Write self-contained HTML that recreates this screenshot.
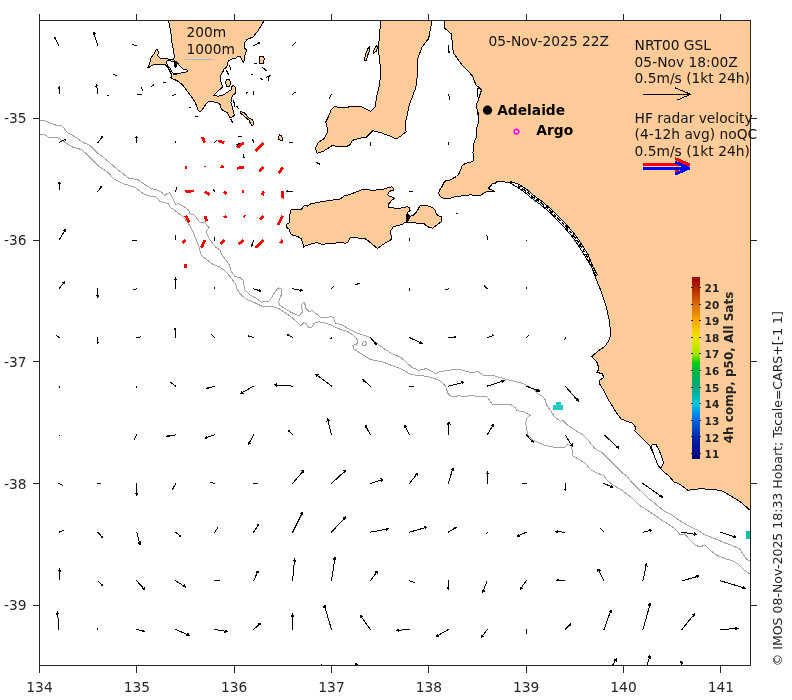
<!DOCTYPE html>
<html><head><meta charset="utf-8"><title>IMOS ocean current map</title>
<style>html,body{margin:0;padding:0;background:#fff}svg{display:block}text{font-family:"DejaVu Sans","Liberation Sans",sans-serif}</style>
</head><body>
<svg width="792" height="700" viewBox="0 0 792 700" shape-rendering="crispEdges">
<defs><clipPath id="axclip"><rect x="39.5" y="20.5" width="711" height="645"/></clipPath><linearGradient id="cb" x1="0" y1="277" x2="0" y2="459" gradientUnits="userSpaceOnUse"><stop offset="0.000" stop-color="#990000"/><stop offset="0.055" stop-color="#b02000"/><stop offset="0.148" stop-color="#d86800"/><stop offset="0.242" stop-color="#f8a800"/><stop offset="0.330" stop-color="#f0e400"/><stop offset="0.423" stop-color="#a8e800"/><stop offset="0.467" stop-color="#10d010"/><stop offset="0.511" stop-color="#00b840"/><stop offset="0.604" stop-color="#00a880"/><stop offset="0.698" stop-color="#00c8e0"/><stop offset="0.742" stop-color="#0098f0"/><stop offset="0.786" stop-color="#0068e0"/><stop offset="0.879" stop-color="#0028a8"/><stop offset="0.967" stop-color="#000c88"/><stop offset="1.000" stop-color="#000878"/></linearGradient></defs>
<rect x="0" y="0" width="792" height="700" fill="#ffffff"/>
<polygon points="444.4,20.0 750.5,20.0 750.5,510.6 741.1,502.3 734.3,498.0 725.7,492.9 720.6,490.3 708.6,489.4 701.7,488.6 694.9,489.4 688.0,490.3 681.1,485.1 676.0,482.6 673.6,481.8 669.1,475.8 664.5,472.7 660.0,468.2 657.0,460.6 652.4,451.5 649.5,445.3 641.4,437.2 634.9,431.1 635.4,427.1 632.3,423.0 626.3,421.0 621.2,419.0 615.2,410.9 609.1,400.8 604.0,390.7 600.0,384.6 599.0,380.6 604.0,377.6 602.0,373.5 597.0,372.5 599.0,368.5 597.0,362.4 591.9,356.4 599.0,350.3 605.0,346.3 609.1,340.2 610.7,334.1 609.5,321.0 606.0,306.0 601.0,291.0 595.0,276.3 591.5,267.0 585.0,256.0 575.5,241.0 570.0,234.0 563.5,226.5 556.6,219.4 550.5,213.0 540.4,204.5 532.3,198.7 525.3,192.7 517.2,187.1 510.1,183.1 505.8,182.2 500.7,181.3 496.9,181.8 494.4,183.8 492.5,183.5 491.2,185.4 488.7,187.9 489.3,189.1 491.9,189.8 494.4,191.0 493.1,191.7 489.3,191.0 486.2,191.7 483.0,193.6 480.5,195.5 478.0,195.7 470.4,194.8 462.8,195.7 455.3,196.7 451.5,197.7 447.7,199.0 443.9,198.6 440.7,196.7 438.6,193.6 439.5,190.4 442.0,186.6 443.9,182.8 445.8,180.9 448.9,180.9 452.7,178.4 456.5,176.5 458.4,174.6 459.7,172.1 460.9,168.9 462.2,165.8 465.4,163.3 469.1,162.6 472.9,161.4 473.6,157.6 472.9,152.5 473.1,151.4 474.0,142.9 476.1,137.5 476.1,130.0 478.9,121.4 477.4,110.7 478.9,115.0 476.0,106.0 478.9,98.3 481.7,89.8 476.0,85.0 472.3,75.6 462.8,66.0 453.3,52.9 451.4,34.0 444.8,28.3" fill="#ffcc99" stroke="#000" stroke-width="1" stroke-linejoin="round"/>
<polygon points="380.4,20.0 431.8,20.0 430.7,27.9 428.6,38.6 422.1,47.1 417.9,57.9 417.4,75.0 415.7,87.9 412.5,96.4 409.3,105.0 407.1,115.7 405.0,124.3 406.1,131.8 400.7,136.1 396.4,138.9 390.0,136.1 381.4,132.9 372.9,130.7 366.4,137.1 360.0,138.2 352.5,140.3 349.3,145.7 342.9,146.8 332.1,145.7 323.6,151.1 317.1,153.2 315.4,147.8 318.2,142.5 324.6,138.2 327.9,130.7 325.7,122.1 327.9,117.9 331.0,110.3 334.3,106.7 342.9,107.6 351.4,106.7 360.0,106.0 366.4,109.3 370.7,111.4 375.0,107.1 376.7,96.4 379.3,85.7 381.0,72.9 379.3,57.9 378.2,47.1 379.7,36.4" fill="#ffcc99" stroke="#000" stroke-width="1" stroke-linejoin="round"/>
<polygon points="168.3,20.0 264.4,20.0 258.4,30.4 252.9,37.1 247.1,39.3 244.3,42.9 245.0,48.6 246.3,50.0 245.7,54.6 244.0,56.3 244.6,59.7 243.4,62.6 242.3,60.3 240.6,56.9 237.7,56.3 235.4,58.6 231.4,59.1 228.6,60.9 227.4,63.7 226.9,67.1 224.0,68.9 223.4,71.1 221.1,74.0 220.6,78.6 221.1,83.1 222.9,86.6 220.6,88.9 217.1,91.7 213.7,95.1 218.3,96.3 222.9,95.1 227.4,92.3 230.9,90.0 232.0,86.6 233.1,85.4 234.9,86.6 236.0,89.4 235.4,93.4 233.1,95.1 231.4,98.0 230.9,102.6 232.0,106.0 233.1,110.6 234.3,115.1 232.6,116.9 229.7,117.4 228.6,115.1 227.4,112.9 225.1,111.7 221.7,109.4 220.6,107.1 220.0,104.3 217.1,102.6 213.7,102.0 210.9,101.1 207.4,102.3 205.0,105.5 203.0,108.5 200.6,111.4 198.3,110.9 197.1,107.4 195.4,102.9 192.6,98.3 189.1,93.7 185.7,89.1 182.3,84.6 177.7,81.1 173.1,78.9 170.9,77.7 171.4,74.3 170.3,72.0 168.0,67.4 165.1,64.6 158.9,64.0 153.7,64.6 149.7,66.9 147.4,68.0 149.1,65.1 150.3,60.6 151.4,57.1 154.3,53.7 156.0,50.3 157.1,49.1 158.3,51.4 157.7,56.0 160.0,58.3 166.9,58.9 173.7,59.4 174.3,57.1 173.7,51.4 172.6,45.7 171.4,40.0 170.9,32.2" fill="#ffcc99" stroke="#000" stroke-width="1" stroke-linejoin="round"/>
<polygon points="291.1,209.9 301.3,209.4 303.5,206.7 305.1,205.1 307.8,206.1 310.4,204.0 317.4,202.4 324.9,201.1 335.7,199.7 340.0,199.2 344.2,196.0 348.5,194.9 357.1,191.7 362.5,189.5 368.4,189.7 373.8,190.6 378.1,189.5 382.4,190.0 385.6,188.4 388.8,187.4 392.0,186.8 393.7,188.4 393.1,190.6 391.0,190.6 388.8,192.2 387.8,194.3 388.8,196.0 392.0,197.0 394.2,198.6 391.5,200.2 390.4,201.9 388.6,204.0 388.6,207.2 392.0,207.8 397.4,208.3 402.8,207.8 407.1,206.7 409.2,207.8 410.3,210.4 408.1,212.0 407.1,214.2 409.2,216.3 412.4,215.8 415.7,213.1 417.8,209.9 419.4,206.7 421.0,205.1 424.2,205.4 428.5,206.1 432.8,207.8 435.0,209.9 436.0,213.1 438.2,215.8 441.4,216.9 442.0,221.2 439.3,223.3 436.0,225.5 432.8,228.1 428.5,227.1 424.2,223.9 418.9,223.3 413.5,222.8 408.1,222.2 404.9,222.2 402.8,224.4 397.4,225.5 393.1,227.1 391.0,230.3 390.8,234.6 392.0,237.8 390.4,240.5 386.7,242.1 383.5,244.2 380.2,246.4 377.6,248.5 374.9,246.4 371.7,243.7 367.9,240.5 365.2,238.9 361.4,238.9 357.1,237.8 350.7,237.3 349.6,238.9 347.5,242.6 345.3,243.2 340.0,242.6 334.6,243.2 328.1,243.2 322.8,244.8 317.4,242.6 314.2,243.2 309.9,244.2 307.8,245.3 305.1,245.9 303.5,247.5 302.9,243.2 301.3,238.9 298.1,236.7 292.7,235.1 290.6,233.5 289.0,229.2 286.8,227.6 286.8,224.4 289.0,222.8 289.5,216.3 290.6,212.0" fill="#ffcc99" stroke="#000" stroke-width="1" stroke-linejoin="round"/>
<polygon points="240.6,111.7 244.0,112.3 246.9,115.7 249.7,118.6 252.6,119.7 253.7,124.3 252.0,126.0 250.3,123.1 249.1,120.3 245.7,117.4 242.3,114.6 240.6,112.9" fill="#ffcc99" stroke="#000" stroke-width="1" stroke-linejoin="round"/>
<polygon points="226.3,79.5 229.0,79.0 230.5,81.5 230.2,85.0 228.5,87.0 226.5,86.0 225.8,82.5" fill="#ffcc99" stroke="#000" stroke-width="1" stroke-linejoin="round"/>
<polygon points="167.4,60.5 175.4,61.7 177.7,63.0 180.6,66.9 183.4,69.1 186.9,69.5 187.4,71.8 182.3,72.6 177.7,73.7 174.3,74.6 172.0,72.0 170.3,68.6 167.4,65.1 166.5,62.0" fill="#fff" stroke="#000" stroke-width="1" stroke-linejoin="round"/>
<polygon points="652.0,445.0 656.0,444.5 659.0,450.0 661.5,456.0 663.5,463.0 661.5,467.5 658.5,466.5 655.5,459.0 653.0,452.0 651.5,447.5" fill="#fff" stroke="#000" stroke-width="1" stroke-linejoin="round"/>
<polygon points="510.1,183.1 517.2,187.1 525.3,192.7 532.3,198.7 540.4,204.5 550.5,213.0 556.6,219.4 563.5,226.5 570.0,234.0 575.5,241.0 585.0,256.0 591.5,267.0 596.0,275.5 597.3,274.8 592.8,266.3 587.9,254.2 578.3,239.1 572.6,231.8 566.0,224.2 559.0,217.0 552.8,210.5 542.5,201.8 534.4,196.0 527.4,190.0 519.0,184.2 510.8,181.8" fill="#fff" stroke="#000" stroke-width="1" stroke-linejoin="round"/>
<polyline points="518.1,185.7 526.3,191.4 533.3,197.4 541.5,203.2 551.7,211.7 557.8,218.2 564.8,225.4 571.3,232.9 576.9,240.0 586.4,255.1 592.2,266.6" fill="none" stroke="#000" stroke-width="1.5" stroke-dasharray="3 1.5 5 2"/>
<polygon points="259.5,57.0 263.5,56.5 264.3,59.0 263.0,63.5 259.5,63.5" fill="#ffcc99" stroke="#000" stroke-width="1" stroke-linejoin="round"/>
<polygon points="278.0,139.5 279.5,134.5 281.0,135.5 283.0,139.0 282.0,140.5" fill="#ffcc99" stroke="#000" stroke-width="1" stroke-linejoin="round"/>
<polygon points="364.5,60.5 365.5,54.0 368.0,48.5 369.8,46.0 369.3,51.0 367.5,56.0 366.0,61.0" fill="#ffcc99" stroke="#000" stroke-width="1" stroke-linejoin="round"/>
<polygon points="373.0,53.5 374.5,48.5 376.5,45.5 377.5,47.5 376.0,51.5" fill="#ffcc99" stroke="#000" stroke-width="1" stroke-linejoin="round"/>
<path d="M255 63.2h1.2M262.5 67.5L266 70.3M251.6 74.4h1.2M260 78L263 80M266.5 77.2L270.8 75.4M268.3 76.2V80M113.4 74.6L116.6 75.4M107.2 95.8h1.2M151.9 86.2L153.8 84.5M164 82.6h1.2M316.3 162.5L319.3 164M356 284.6L359 283.6M456.6 213.3h1.2M229.5 65.6L230.8 69.2M226.5 70.8L228.5 74.4M233.6 100.5L234.8 106.8M236.8 106.2L238.3 108.4M231 119.8L233 123M196 116.2h1.2M189.2 107.6h1.2M246 93h1.2M141.5 88L143 91M238.9 136.3H241M252.1 139.1L253.4 140.8L253.6 142.6M243.3 155V157.5H244.7M237 144.5L239.3 143.3L238.5 145.6Z" stroke="#000" stroke-width="1.2" fill="none" stroke-linecap="round"/>
<path d="M405.5 214.5L409 213.8L410.5 217L408.5 221.5L406 221.8Z" fill="#000"/>
<path d="M477.8 88.5L481.5 89.5L480.5 93L478.6 98.5L477.6 96Z" fill="none" stroke="#000" stroke-width="1"/>
<path d="M173.5 60L176.5 61.5L177.2 66.5L175 68.5L173.8 64Z M173 72.5L176.8 73.2L175.5 75L173 74.8Z" fill="#000"/>
<polyline points="39.5,120.3 44.0,120.6 50.1,122.9 57.7,125.9 62.2,125.9 67.5,132.7 75.9,137.3 81.9,141.8 90.3,145.6 98.6,153.9 107.7,160.8 115.3,167.6 122.8,173.6 128.9,178.2 138.0,179.7 144.1,184.2 151.6,188.8 155.7,189.3 161.4,192.1 165.0,195.7 167.1,193.6 170.0,192.6 172.9,198.6 175.7,204.3 178.6,203.6 183.6,206.4 188.6,210.0 190.0,213.6 194.3,215.0 197.1,218.6 200.0,222.1 205.0,222.9 209.3,227.9 206.4,230.7 207.1,234.3 210.0,240.0 215.7,247.1 220.0,250.0 221.4,254.3 224.3,257.9 227.9,262.9 229.5,265.0 231.1,271.1 234.8,276.4 240.2,277.9 243.2,280.2 243.9,284.7 244.7,290.0 249.2,294.5 255.3,297.6 261.4,302.1 268.9,301.4 272.0,296.8 275.8,290.8 278.8,287.7 281.4,289.2 281.1,295.3 278.8,301.4 279.5,305.2 285.6,308.9 291.7,312.7 299.2,315.8 302.3,312.0 301.5,304.4 303.8,302.1 305.3,305.2 306.1,308.9 309.8,312.0 312.1,310.5 315.9,313.5 320.5,317.3 328.0,318.0 329.5,316.5 333.3,317.3 335.6,323.3 341.5,324.7 349.1,329.2 356.7,333.0 368.8,336.8 379.4,345.2 385.5,349.7 393.0,354.2 400.6,357.3 406.7,362.6 412.7,367.9 418.8,370.2 426.4,368.6 432.4,371.7 435.5,373.9 440.0,371.7 449.1,370.2 455.2,369.4 460.6,369.4 465.2,371.2 472.7,372.7 477.3,371.2 483.3,375.0 493.9,375.8 504.5,378.8 513.6,381.1 522.7,383.3 528.8,386.4 534.8,390.2 537.9,393.9 542.4,396.2 545.5,400.0 546.2,404.5 550.0,409.8 554.5,416.7 560.6,421.2 563.0,420.5 567.6,425.0 575.2,430.3 582.7,434.8 588.8,440.9 594.8,448.5 602.4,453.0 608.5,459.1 616.1,466.7 622.1,472.7 626.7,475.8 631.2,481.8 637.3,487.9 640.0,490.3 646.9,497.1 655.4,504.0 664.0,510.9 670.9,514.3 679.4,520.3 688.0,525.4 696.6,529.7 705.1,534.9 713.7,538.3 722.3,541.7 730.9,545.1 739.4,548.6 742.9,553.7 746.3,558.9 750.5,561.4" fill="none" stroke="#a3a3a3" stroke-width="1" stroke-linejoin="round"/>
<polyline points="39.5,135.0 44.0,134.2 48.6,137.3 57.7,137.6 65.3,142.6 72.8,147.1 81.9,149.7 89.5,157.0 98.6,166.1 107.7,172.1 113.8,178.9 122.8,183.5 135.0,187.3 144.1,194.1 151.6,196.4 155.7,196.4 160.0,201.4 168.6,203.6 170.0,207.1 174.3,210.0 180.0,214.3 185.7,220.0 190.0,225.7 192.9,231.4 195.7,238.6 198.6,245.7 201.4,255.7 207.1,260.0 212.9,264.3 220.0,267.1 225.7,271.4 231.1,277.9 235.6,283.9 237.1,289.2 240.2,293.8 246.2,299.1 255.3,302.9 262.9,306.7 273.5,306.7 279.5,308.9 288.6,315.0 296.2,321.1 300.8,325.6 303.8,322.6 306.1,323.3 308.3,327.1 312.1,327.1 313.6,323.3 318.9,321.8 326.5,323.3 334.1,326.4 340.2,329.4 347.6,331.5 353.6,335.3 357.4,339.8 357.4,343.6 352.9,345.6 353.6,348.9 359.7,352.7 370.3,359.5 382.4,361.8 390.0,364.8 400.6,368.6 411.2,374.7 421.8,375.5 432.4,377.7 441.5,381.5 446.1,386.8 447.6,392.9 450.6,395.9 455.2,396.7 459.1,395.5 463.6,397.0 469.7,395.5 477.3,396.2 486.4,396.2 489.4,400.0 492.4,404.5 501.5,404.5 510.6,404.5 515.2,407.6 516.7,410.6 524.2,412.1 530.3,415.2 527.3,417.4 525.8,422.7 526.5,428.8 528.0,434.8 531.8,439.4 537.9,442.4 545.5,445.5 553.0,447.0 560.6,447.7 564.5,447.7 566.8,444.7 571.4,445.5 572.1,450.0 572.1,455.3 578.2,459.1 585.8,463.6 590.3,469.7 596.4,472.7 603.9,475.8 607.0,480.3 613.0,484.8 620.6,489.4 626.7,493.9 632.7,498.5 640.0,505.7 646.9,510.0 653.7,514.3 660.6,519.4 669.1,524.6 676.0,529.7 680.3,534.9 684.6,534.0 687.1,536.6 689.7,540.0 694.9,545.1 700.0,546.9 705.1,545.1 710.3,550.3 717.1,555.4 725.7,558.9 732.6,560.6 737.7,564.0 742.9,569.1 750.5,574.3" fill="none" stroke="#a3a3a3" stroke-width="1" stroke-linejoin="round"/>
<path d="M555.5 402.3h5v2.8h2.4v4.7h-10v-4.7h2.6z" fill="#22c9c0"/>
<rect x="746.3" y="531" width="4" height="7.8" fill="#19bfa2"/>
<g clip-path="url(#axclip)"><path d="M59.0 45.4L54.1 37.1M54.1 37.1L55.7 38.1M54.1 37.1L54.2 39.0M97.9 45.4L93.5 32.2M93.5 32.2L95.4 34.0M93.5 32.2L93.0 34.8M136.8 45.4L132.0 44.8M253.6 45.4L260.0 43.0M260.0 43.0L259.1 44.0M260.0 43.0L258.7 42.8M292.6 45.4L296.0 42.0M448.3 45.4L449.0 52.5M449.0 52.5L448.2 51.3M449.0 52.5L449.6 51.2M59.0 94.1L59.4 87.0M59.4 87.0L60.0 88.3M59.4 87.0L58.6 88.2M97.9 94.1L96.5 84.5M96.5 84.5L97.7 86.0M96.5 84.5L95.8 86.3M136.8 94.1L142.0 95.0M175.8 94.1L172.0 96.0M253.6 94.1L253.8 91.5M292.6 94.1L296.0 92.0M331.5 94.1L329.5 98.0M448.3 94.1L450.0 99.5M59.0 142.7L66.0 139.0M66.0 139.0L65.1 140.3M66.0 139.0L64.4 139.0M97.9 142.7L102.4 136.5M102.4 136.5L102.2 138.0M102.4 136.5L101.0 137.2M136.8 142.7L136.5 136.5M136.5 136.5L137.2 137.6M136.5 136.5L136.0 137.6M175.8 142.7L175.0 141.0M214.7 142.7L216.5 140.5M292.6 142.7L290.0 142.5M370.4 142.7L371.0 145.5M448.3 142.7L448.5 144.8M59.0 191.4L59.2 182.0M59.2 182.0L60.1 183.7M59.2 182.0L58.3 183.6M97.9 191.4L101.8 186.0M101.8 186.0L101.6 187.3M101.8 186.0L100.6 186.6M175.8 191.4L176.5 188.0M214.7 191.4L213.5 189.8M292.6 191.4L286.5 191.3M286.5 191.3L287.6 190.7M286.5 191.3L287.6 191.9M409.4 191.4L412.5 192.0M59.0 240.1L65.5 229.5M65.5 229.5L65.4 232.0M65.5 229.5L63.3 230.7M136.8 240.1L132.0 241.0M175.8 240.1L175.4 235.5M214.7 240.1L214.2 237.8M253.6 240.1L251.5 246.0M251.5 246.0L251.3 244.8M251.5 246.0L252.4 245.2M409.4 240.1L409.8 238.8M487.2 240.1L487.0 235.5M526.2 240.1l0.8 0.8M59.0 288.8L64.5 282.0M64.5 282.0L64.2 283.7M64.5 282.0L62.9 282.7M97.9 288.8L97.6 297.5M97.6 297.5L96.8 295.9M97.6 297.5L98.5 296.0M136.8 288.8L133.5 290.0M175.8 288.8L175.4 278.0M175.4 278.0L176.5 279.9M175.4 278.0L174.4 279.9M214.7 288.8L215.0 287.5M253.6 288.8L260.7 291.0M260.7 291.0L259.2 291.3M260.7 291.0L259.7 289.9M292.6 288.8L302.0 290.5M302.0 290.5L300.2 291.1M302.0 290.5L300.5 289.3M331.5 288.8L334.0 286.0M409.4 288.8L410.0 291.0M448.3 288.8L446.0 289.5M487.2 288.8L484.5 286.0M526.2 288.8L526.5 287.5M59.0 337.5L56.0 335.0M97.9 337.5L97.6 343.5M97.6 343.5L97.1 342.4M97.6 343.5L98.2 342.5M136.8 337.5L140.5 337.0M175.8 337.5L175.0 328.0M175.0 328.0L176.0 329.6M175.0 328.0L174.2 329.7M214.7 337.5L211.0 334.0M253.6 337.5L248.5 336.0M292.6 337.5L287.0 334.0M287.0 334.0L288.3 334.1M287.0 334.0L287.6 335.1M331.5 337.5L331.0 338.5M370.4 337.5L376.3 344.5M376.3 344.5L374.6 343.8M376.3 344.5L375.9 342.7M409.4 337.5L422.0 343.5M422.0 343.5L419.4 343.6M422.0 343.5L420.5 341.4M448.3 337.5L455.7 337.0M455.7 337.0L454.4 337.8M455.7 337.0L454.4 336.4M487.2 337.5L494.0 335.3M494.0 335.3L493.0 336.3M494.0 335.3L492.6 335.0M526.2 337.5L529.0 335.0M565.1 337.5L565.0 339.5M59.0 386.1L59.5 387.3M136.8 386.1L137.0 387.8M175.8 386.1L171.0 382.5M214.7 386.1L207.0 388.5M207.0 388.5L208.1 387.3M207.0 388.5L208.6 388.8M253.6 386.1L240.5 393.5M240.5 393.5L241.9 391.3M240.5 393.5L243.1 393.5M292.6 386.1L274.5 384.8M274.5 384.8L276.9 383.7M274.5 384.8L276.7 386.2M331.5 386.1L316.0 374.5M316.0 374.5L318.6 374.9M316.0 374.5L317.1 376.9M370.4 386.1L362.8 379.7M362.8 379.7L364.8 380.1M362.8 379.7L363.5 381.6M409.4 386.1L413.7 386.2M448.3 386.1L463.8 382.2M463.8 382.2L461.9 384.0M463.8 382.2L461.3 381.6M487.2 386.1L504.2 380.8M504.2 380.8L502.4 382.7M504.2 380.8L501.6 380.3M526.2 386.1L539.4 391.1M539.4 391.1L536.8 391.5M539.4 391.1L537.7 389.1M565.1 386.1L578.4 401.2M578.4 401.2L576.0 400.3M578.4 401.2L577.8 398.7M59.0 434.8l0.8 0.8M136.8 434.8L134.0 440.0M175.8 434.8L167.0 436.5M167.0 436.5L168.4 435.4M167.0 436.5L168.7 437.0M214.7 434.8L205.0 438.0M205.0 438.0L206.4 436.5M205.0 438.0L207.0 438.4M253.6 434.8L248.5 444.5M248.5 444.5L248.5 442.3M248.5 444.5L250.3 443.3M292.6 434.8L288.0 430.0M288.0 430.0L289.3 430.4M288.0 430.0L288.3 431.3M331.5 434.8L327.5 419.0M327.5 419.0L329.3 420.9M327.5 419.0L326.8 421.5M370.4 434.8L365.2 425.2M365.2 425.2L367.0 426.4M365.2 425.2L365.2 427.4M409.4 434.8L404.6 425.2M404.6 425.2L406.4 426.4M404.6 425.2L404.5 427.3M448.3 434.8L449.0 422.0M449.0 422.0L450.1 424.3M449.0 422.0L447.6 424.2M487.2 434.8L493.5 424.2M493.5 424.2L493.4 426.7M493.5 424.2L491.4 425.5M526.2 434.8L533.3 442.2M533.3 442.2L531.3 441.6M533.3 442.2L532.8 440.2M565.1 434.8L572.3 446.3M572.3 446.3L570.0 445.0M572.3 446.3L572.1 443.7M604.0 434.8L618.8 448.3M618.8 448.3L616.3 447.7M618.8 448.3L618.0 445.8M59.0 483.5L62.6 485.5M97.9 483.5L100.8 483.3M136.8 483.5L136.6 495.5M136.6 495.5L135.5 493.4M136.6 495.5L137.8 493.4M175.8 483.5L172.3 489.5M172.3 489.5L172.3 488.1M172.3 489.5L173.5 488.8M214.7 483.5L210.0 482.0M253.6 483.5L258.0 483.3M292.6 483.5L304.0 470.0M304.0 470.0L303.5 472.5M304.0 470.0L301.6 470.9M331.5 483.5L345.5 470.5M345.5 470.5L344.7 473.0M345.5 470.5L343.0 471.1M370.4 483.5L383.0 479.3M383.0 479.3L381.2 481.2M383.0 479.3L380.4 478.8M409.4 483.5L417.7 473.2M417.7 473.2L417.2 475.8M417.7 473.2L415.3 474.2M448.3 483.5L453.0 468.0M453.0 468.0L453.5 470.5M453.0 468.0L451.1 469.8M487.2 483.5L487.5 472.0M487.5 472.0L488.6 474.0M487.5 472.0L486.3 474.0M526.2 483.5L522.0 483.2M565.1 483.5L565.5 490.3M565.5 490.3L564.8 489.1M565.5 490.3L566.1 489.1M604.0 483.5L612.7 487.3M612.7 487.3L610.8 487.5M612.7 487.3L611.5 485.8M642.9 483.5L662.3 497.1M662.3 497.1L659.7 496.8M662.3 497.1L661.1 494.8M59.0 532.2L64.0 530.3M97.9 532.2L102.6 537.5M102.6 537.5L101.3 537.0M102.6 537.5L102.3 536.1M136.8 532.2L140.0 544.5M140.0 544.5L138.3 542.6M140.0 544.5L140.6 542.0M175.8 532.2L180.5 536.5M180.5 536.5L179.3 536.2M180.5 536.5L180.1 535.3M214.7 532.2L217.5 528.0M253.6 532.2L259.0 524.0M259.0 524.0L258.8 526.0M259.0 524.0L257.3 524.9M292.6 532.2L302.7 512.0M302.7 512.0L302.8 514.6M302.7 512.0L300.6 513.5M331.5 532.2L345.5 517.0M345.5 517.0L344.9 519.5M345.5 517.0L343.0 517.8M370.4 532.2L388.4 528.8M388.4 528.8L386.4 530.4M388.4 528.8L385.9 528.0M409.4 532.2L426.8 527.2M426.8 527.2L424.9 529.0M426.8 527.2L424.3 526.6M448.3 532.2L456.5 527.2M456.5 527.2L455.5 528.9M456.5 527.2L454.6 527.3M487.2 532.2L486.8 533.2M526.2 532.2L517.2 536.4M517.2 536.4L518.4 534.8M517.2 536.4L519.2 536.5M565.1 532.2L555.6 531.7M555.6 531.7L557.3 530.9M555.6 531.7L557.2 532.7M604.0 532.2L600.6 528.7M642.9 532.2L651.5 530.3M651.5 530.3L650.2 531.5M651.5 530.3L649.8 529.8M681.9 532.2L696.6 534.5M696.6 534.5L694.2 535.4M696.6 534.5L694.5 532.9M720.8 532.2L736.0 537.4M736.0 537.4L733.4 537.8M736.0 537.4L734.2 535.5M59.0 580.9L59.5 569.0M59.5 569.0L60.5 571.1M59.5 569.0L58.3 571.0M97.9 580.9L102.6 585.5M102.6 585.5L101.3 585.1M102.6 585.5L102.2 584.2M136.8 580.9L144.6 589.5M144.6 589.5L142.4 588.7M144.6 589.5L144.1 587.2M175.8 580.9L185.5 587.0M185.5 587.0L183.2 586.9M185.5 587.0L184.4 585.0M214.7 580.9L220.0 580.0M253.6 580.9L258.0 571.0M258.0 571.0L258.2 573.1M258.0 571.0L256.3 572.3M292.6 580.9L294.6 559.0M294.6 559.0L295.6 561.4M294.6 559.0L293.1 561.2M331.5 580.9L335.0 557.0M335.0 557.0L335.9 559.4M335.0 557.0L333.4 559.1M370.4 580.9L377.3 571.2M377.3 571.2L377.0 573.6M377.3 571.2L375.2 572.2M409.4 580.9L414.7 582.5M448.3 580.9L448.4 589.5M448.4 589.5L447.6 588.0M448.4 589.5L449.2 588.0M487.2 580.9L482.4 592.6M482.4 592.6L482.1 590.1M482.4 592.6L484.4 591.0M526.2 580.9L520.2 589.3M520.2 589.3L520.4 587.2M520.2 589.3L522.1 588.4M565.1 580.9L556.6 580.2M556.6 580.2L558.2 579.5M556.6 580.2L558.0 581.1M604.0 580.9L598.0 569.0M598.0 569.0L600.1 570.5M598.0 569.0L597.9 571.6M642.9 580.9L646.5 564.0M646.5 564.0L647.2 566.5M646.5 564.0L644.8 566.0M681.9 580.9L699.0 576.0M699.0 576.0L697.1 577.8M699.0 576.0L696.5 575.4M720.8 580.9L745.4 588.3M745.4 588.3L742.9 588.8M745.4 588.3L743.6 586.4M59.0 629.5L57.5 612.0M57.5 612.0L58.9 614.2M57.5 612.0L56.4 614.4M97.9 629.5L97.3 628.8M136.8 629.5L144.0 631.5M144.0 631.5L142.6 631.8M144.0 631.5L142.9 630.5M175.8 629.5L189.5 635.5M189.5 635.5L186.9 635.7M189.5 635.5L187.9 633.4M214.7 629.5L227.0 631.5M227.0 631.5L224.7 632.3M227.0 631.5L225.0 630.0M253.6 629.5L260.7 623.0M260.7 623.0L260.1 624.8M260.7 623.0L258.8 623.5M292.6 629.5L292.6 614.0M292.6 614.0L293.8 616.3M292.6 614.0L291.3 616.3M331.5 629.5L324.3 605.0M324.3 605.0L326.1 606.8M324.3 605.0L323.7 607.5M370.4 629.5L360.2 615.2M360.2 615.2L362.5 616.3M360.2 615.2L360.5 617.8M409.4 629.5L396.5 630.4M396.5 630.4L398.7 629.0M396.5 630.4L398.8 631.5M448.3 629.5L436.3 636.4M436.3 636.4L437.7 634.2M436.3 636.4L438.9 636.3M487.2 629.5L481.4 637.4M481.4 637.4L481.7 635.5M481.4 637.4L483.2 636.6M526.2 629.5L526.3 634.0M565.1 629.5L570.6 624.0M570.6 624.0L570.2 625.5M570.6 624.0L569.1 624.4M604.0 629.5L611.0 610.0M611.0 610.0L611.4 612.6M611.0 610.0L609.1 611.7M642.9 629.5L650.4 603.2M650.4 603.2L651.0 605.7M650.4 603.2L648.6 605.1M681.9 629.5L694.4 614.0M694.4 614.0L693.9 616.6M694.4 614.0L692.0 615.0M720.8 629.5L738.0 628.5M738.0 628.5L735.8 629.9M738.0 628.5L735.6 627.4M331.5 678.2L321.5 665.0M321.5 665.0L323.9 666.1M321.5 665.0L321.9 667.6M370.4 678.2L355.6 663.5M355.6 663.5L358.1 664.2M355.6 663.5L356.3 666.0M604.0 678.2L616.5 659.0M616.5 659.0L616.3 661.6M616.5 659.0L614.2 660.2M642.9 678.2L650.0 655.7M650.0 655.7L650.5 658.2M650.0 655.7L648.1 657.5M681.9 678.2L681.2 661.0M681.2 661.0L682.5 663.2M681.2 661.0L680.0 663.3" stroke="#000" stroke-width="1" fill="none" stroke-linecap="round"/></g>
<path d="M205.0 142.7L202.3 137.1M224.4 142.7L218.2 140.9M243.9 142.7L237.1 147.7M263.4 142.7L255.3 150.8M184.5 167.1h2.4M205.0 167.1L205.5 166.4M224.4 167.1L220.5 166.7M243.9 167.1L237.1 168.2M263.4 167.1L259.1 172.0M282.8 167.1L278.8 173.5M185.5 191.4L193.9 190.9M205.0 191.4L209.8 195.0M224.4 191.4L226.5 194.0M243.9 191.4L241.7 191.7M263.4 191.4L262.5 195.5M282.8 191.4L282.5 198.5M185.5 215.8L189.4 222.0M205.0 215.8L206.8 221.2M224.4 215.8L226.0 218.0M243.9 215.8L245.3 216.7M263.4 215.8L259.8 219.7M282.8 215.8L278.0 225.0M185.5 240.1L182.6 243.2M205.0 240.1L201.5 247.7M224.4 240.1L220.5 244.0M243.9 240.1L238.6 244.0M263.4 240.1L256.0 248.0M282.8 240.1L280.3 243.2M185.5 264.4L185.5 267.5" stroke="#ff0000" stroke-width="2.8" fill="none" stroke-linecap="butt"/>
<circle cx="364.2" cy="343.6" r="2" fill="none" stroke="#a3a3a3" stroke-width="1"/>
<rect x="39.5" y="20.5" width="711" height="645" fill="none" stroke="#262626" stroke-width="1"/>
<path d="M39.5 665.5V672.5M39.5 20.5V13.5M136.8 665.5V672.5M136.8 20.5V13.5M234.2 665.5V672.5M234.2 20.5V13.5M331.5 665.5V672.5M331.5 20.5V13.5M428.8 665.5V672.5M428.8 20.5V13.5M526.1 665.5V672.5M526.1 20.5V13.5M623.5 665.5V672.5M623.5 20.5V13.5M720.8 665.5V672.5M720.8 20.5V13.5M39.5 118.4H33M750.5 118.4H757M39.5 240.1H33M750.5 240.1H757M39.5 361.8H33M750.5 361.8H757M39.5 483.6H33M750.5 483.6H757M39.5 605.3H33M750.5 605.3H757" stroke="#262626" stroke-width="1" fill="none"/>
<g font-size="13.8" fill="#262626"><text x="39.5" y="692" text-anchor="middle">134</text><text x="136.8" y="692" text-anchor="middle">135</text><text x="234.2" y="692" text-anchor="middle">136</text><text x="331.5" y="692" text-anchor="middle">137</text><text x="428.8" y="692" text-anchor="middle">138</text><text x="526.1" y="692" text-anchor="middle">139</text><text x="623.5" y="692" text-anchor="middle">140</text><text x="720.8" y="692" text-anchor="middle">141</text><text x="26.5" y="123.4" text-anchor="end">-35</text><text x="26.5" y="245.1" text-anchor="end">-36</text><text x="26.5" y="366.8" text-anchor="end">-37</text><text x="26.5" y="488.6" text-anchor="end">-38</text><text x="26.5" y="610.3" text-anchor="end">-39</text></g>
<text x="488.5" y="46.2" font-size="13.8" fill="#111">05-Nov-2025 22Z</text>
<text x="634.6" y="50" font-size="13.8" fill="#111">NRT00 GSL</text>
<text x="634.6" y="66.6" font-size="13.8" fill="#111">05-Nov 18:00Z</text>
<text x="634.6" y="83.4" font-size="13.8" fill="#111">0.5m/s (1kt 24h)</text>
<path d="M643 94.3H690.7M675 87.8L690.7 94.3L676.7 100.3" stroke="#000" stroke-width="1" fill="none"/>
<g><text x="634.6" y="122.6" font-size="13.8" fill="#111">HF radar velocity</text>
<text x="634.6" y="139.2" font-size="13.8" fill="#111">(4-12h avg) noQC</text></g>
<text x="634.6" y="156" font-size="13.8" fill="#111">0.5m/s (1kt 24h)</text>
<path d="M643 164.6H688M675 158.6L689 164.6L675 170.6" stroke="#ff0000" stroke-width="3" fill="none" stroke-linejoin="round"/>
<path d="M643 168.2H688M675 162.2L689 168.2L675 174.2" stroke="#0000ff" stroke-width="3" fill="none" stroke-linejoin="round"/>
<circle cx="487.5" cy="110.2" r="4.6" fill="#000" shape-rendering="auto"/>
<text x="497.2" y="114.8" font-size="13.8" font-weight="bold" fill="#000">Adelaide</text>
<circle cx="516.5" cy="131.5" r="2.3" fill="none" stroke="#ff00ff" stroke-width="1.6" shape-rendering="auto"/>
<text x="536.3" y="135.3" font-size="13.8" font-weight="bold" fill="#000">Argo</text>
<text x="186.5" y="36.8" font-size="13.8" fill="#111">200m</text>
<text x="186.5" y="53.8" font-size="13.8" fill="#111">1000m</text>
<path d="M185.2 59.5H214" stroke="#a9b9c9" stroke-width="1"/>
<rect x="692" y="277" width="8" height="182" fill="url(#cb)"/>
<path d="M691 287.4H693M699 287.4H701M691 304.0H693M699 304.0H701M691 320.6H693M699 320.6H701M691 337.2H693M699 337.2H701M691 353.8H693M699 353.8H701M691 370.4H693M699 370.4H701M691 387.1H693M699 387.1H701M691 403.7H693M699 403.7H701M691 420.3H693M699 420.3H701M691 436.9H693M699 436.9H701M691 453.5H693M699 453.5H701" stroke="#222" stroke-width="1"/>
<g font-size="10.5" font-weight="bold" fill="#222"><text x="704.6" y="292.0">21</text><text x="704.6" y="308.6">20</text><text x="704.6" y="325.2">19</text><text x="704.6" y="341.8">18</text><text x="704.6" y="358.4">17</text><text x="704.6" y="375.1">16</text><text x="704.6" y="391.7">15</text><text x="704.6" y="408.3">14</text><text x="704.6" y="424.9">13</text><text x="704.6" y="441.5">12</text><text x="704.6" y="458.1">11</text></g>
<text transform="translate(733.4 367.5) rotate(-90)" text-anchor="middle" font-size="12" font-weight="bold" fill="#222">4h comp, p50, All Sats</text>
<text transform="translate(782 666.2) rotate(-90)" font-size="12.5" fill="#222">© IMOS 08-Nov-2025 18:33 Hobart; Tscale=CARS+[-1 1]</text>
</svg>
</body></html>
